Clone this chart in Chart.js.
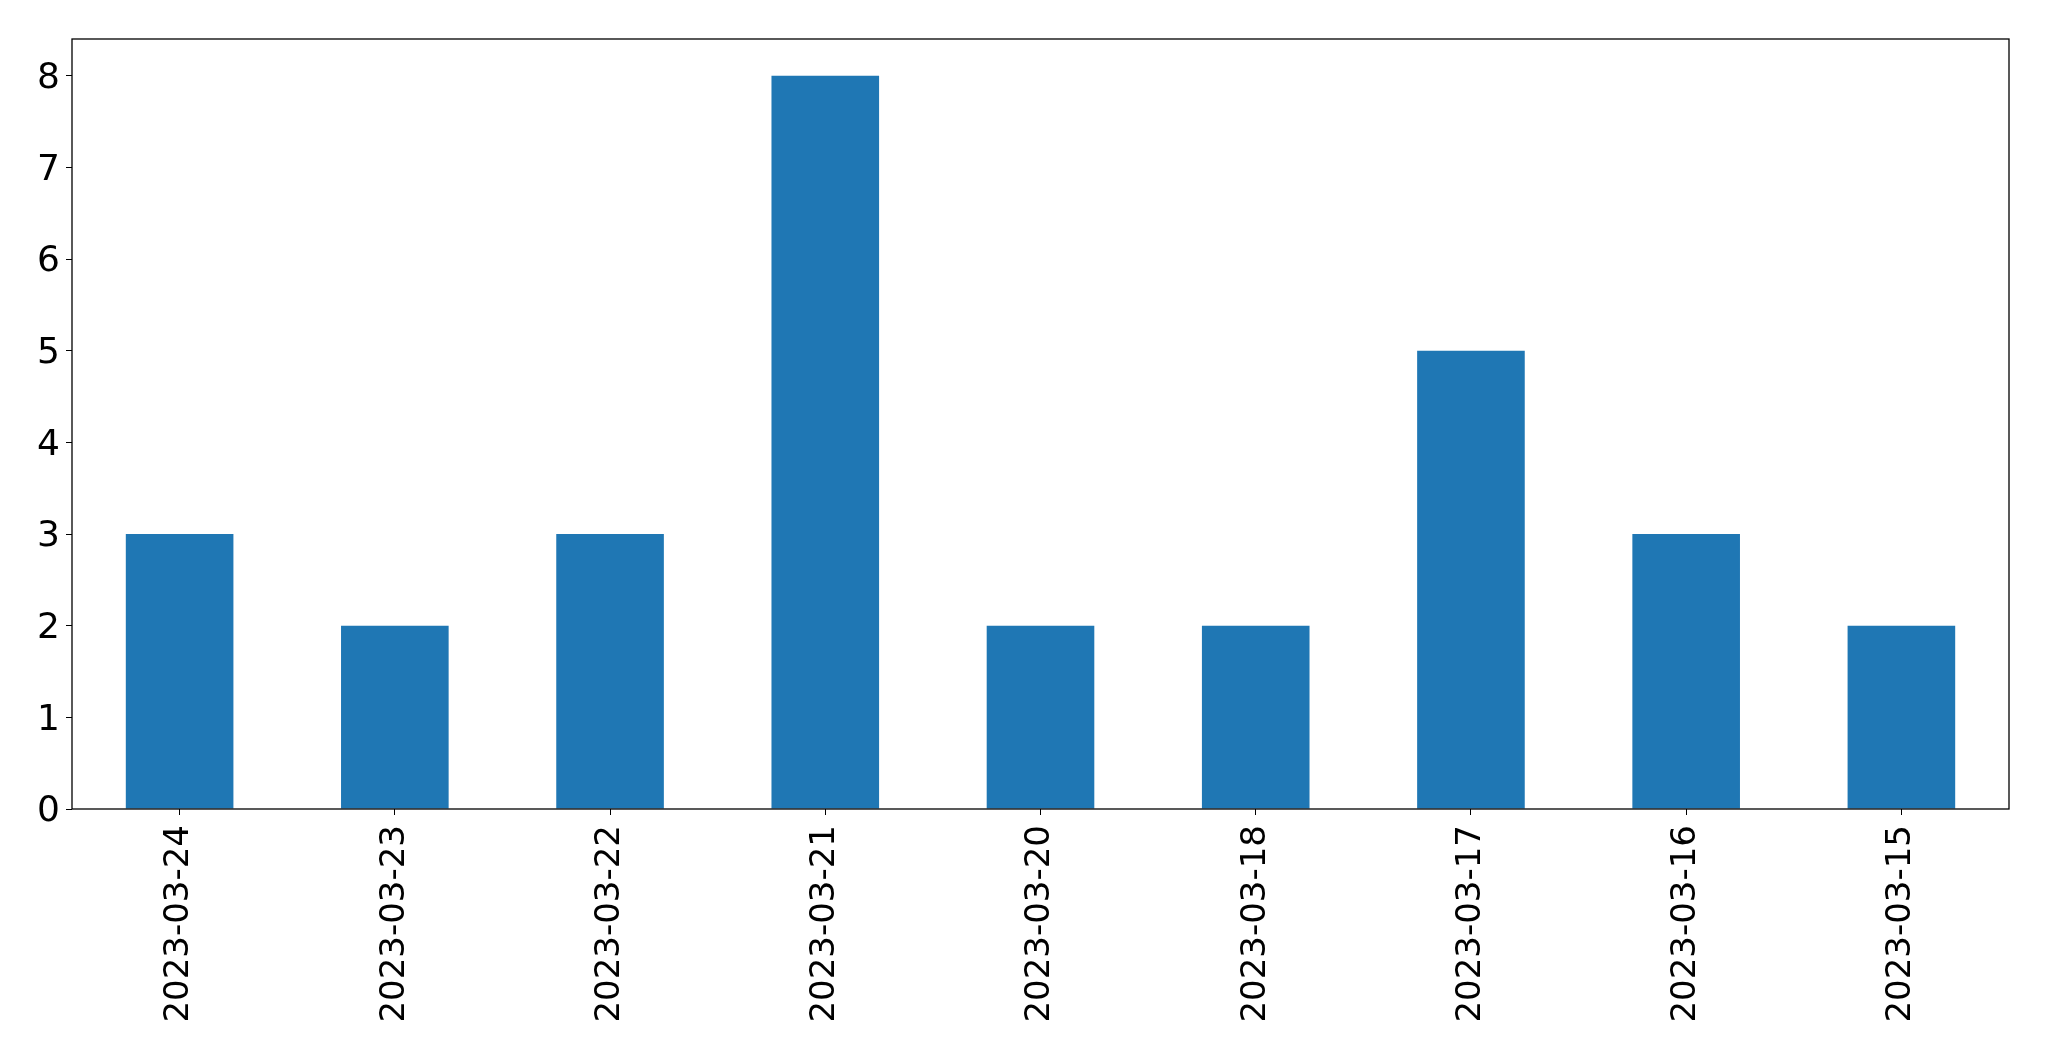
<!DOCTYPE html>
<html>
<head>
<meta charset="utf-8">
<script src="https://cdn.jsdelivr.net/npm/chart.js@4"></script>
<style>
  html, body { margin: 0; padding: 0; background: #fff; }
  #wrap { width: 2049px; height: 1061px; }
</style>
</head>
<body>
<div id="wrap"><canvas id="chart" width="2049" height="1061"></canvas></div>
<script>
// values
const dates = ["2023-03-24", "2023-03-23", "2023-03-22", "2023-03-21", "2023-03-20",
               "2023-03-18", "2023-03-17", "2023-03-16", "2023-03-15"];
const counts = [3, 2, 3, 8, 2, 2, 5, 3, 2];
const yTicks = [0, 1, 2, 3, 4, 5, 6, 7, 8];

// box round the plot area, like matplotlib's spines
const frame = {
  id: "frame",
  afterDraw(chart) {
    const { ctx, chartArea: a } = chart;
    ctx.save();
    ctx.strokeStyle = "#000";
    ctx.lineWidth = 1.3;
    ctx.strokeRect(a.left, a.top, a.right - a.left, a.bottom - a.top);
    ctx.restore();
  },
};

new Chart(document.getElementById("chart"), {
  type: "bar",
  data: {
    labels: dates,
    datasets: [{
      data: counts,
      backgroundColor: "#1f77b4",
      barPercentage: 0.5,
      categoryPercentage: 1.0,
    }],
  },
  options: {
    responsive: false,
    animation: false,
    layout: { padding: { top: 39, right: 40, left: 0, bottom: 0 } },
    plugins: { legend: { display: false }, tooltip: { enabled: false } },
    scales: {
      x: {
        offset: true,
        afterFit: s => { s.height = 252; },
        grid: { drawOnChartArea: false, tickLength: 6, color: "#000", offset: false },
        border: { display: false },
        ticks: {
          color: "#000",
          font: { family: "DejaVu Sans", size: 34 },
          minRotation: 90, maxRotation: 90,
          padding: 10,
          autoSkip: false,
        },
      },
      y: {
        min: 0, max: 8.4,
        afterFit: s => { s.width = 72; },
        afterBuildTicks: s => { s.ticks = yTicks.map(v => ({ value: v })); },
        grid: { drawOnChartArea: false, tickLength: 6, color: "#000" },
        border: { display: false },
        ticks: {
          color: "#000",
          font: { family: "DejaVu Sans", size: 36 },
          padding: 6,
          labelOffset: 3,
        },
      },
    },
  },
  plugins: [frame],
});
</script>
</body>
</html>
